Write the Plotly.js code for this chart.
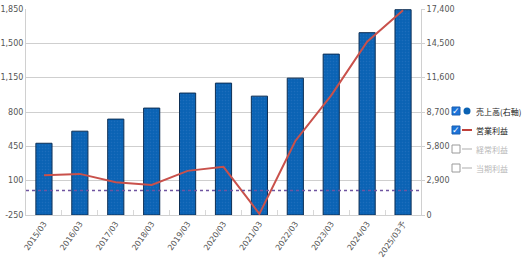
<!DOCTYPE html>
<html>
<head>
<meta charset="utf-8">
<script src="https://cdn.plot.ly/plotly-3.0.1.min.js"></script>
<style>
html,body{margin:0;padding:0;background:#fff;}
#chart{width:523px;height:269px;}
</style>
</head>
<body>
<div id="chart"></div>
<script>
// Data
const categories = ['2015/03','2016/03','2017/03','2018/03','2019/03','2020/03','2021/03','2022/03','2023/03','2024/03','2025/03予'];
const sales = [6060, 7080, 8100, 9030, 10300, 11140, 10040, 11560, 13590, 15400, 17340];      // 売上高 (right axis)
const operatingProfit = [156, 169, 85, 57, 200, 241, -239, 505, 970, 1516, 1836];            // 営業利益 (left axis)
const leftTicks = [-250, 100, 450, 800, 1150, 1500, 1850];
const rightTicks = [0, 2900, 5800, 8700, 11600, 14500, 17400];
const legendLabels = ['売上高(右軸)', '営業利益', '経常利益', '当期利益'];
const legendActive = [true, true, false, false];

const fmt = v => v.toLocaleString('en-US');

const M = {l: 26, r: 102, t: 9, b: 54};
const W = 523, H = 269;
const PW = W - M.l - M.r, PH = H - M.t - M.b;
const px = x => (x - M.l) / PW, py = y => 1 - (y - M.t) / PH;

const traces = [
  {
    type: 'bar', x: categories, y: sales, yaxis: 'y', name: legendLabels[0],
    marker: {color: '#0b63b4', line: {color: '#0d2f55', width: 1},
             pattern: {shape: '.', fillmode: 'overlay', bgcolor: '#0b63b4', fgcolor: '#2f78c2', size: 3, solidity: 0.2}},
    width: 0.45, showlegend: false
  },
  {
    type: 'scatter', mode: 'lines', x: categories, y: operatingProfit, yaxis: 'y2', name: legendLabels[1],
    line: {color: '#c9514b', width: 2}, showlegend: false
  }
];

const shapes = [
  {type: 'line', xref: 'paper', yref: 'y2', x0: 0, x1: 1, y0: 0, y1: 0,
   line: {color: '#6f55a0', width: 1.3, dash: 'dot'}}
];
const annotations = [];

// manual legend with checkboxes
const legX = 452, rowY = [111, 130, 149, 168];
legendLabels.forEach((lab, i) => {
  const y = rowY[i];
  const active = legendActive[i];
  shapes.push({type: 'rect', xref: 'paper', yref: 'paper',
    x0: px(legX), x1: px(legX + 8), y0: py(y + 4), y1: py(y - 4),
    fillcolor: active ? '#1a73d9' : '#ffffff',
    line: {color: active ? '#1a5fb0' : '#9a9a9a', width: 1}});
  if (active) {
    annotations.push({xref: 'paper', yref: 'paper', x: px(legX + 4), y: py(y),
      text: '✓', showarrow: false, font: {family: 'DejaVu Sans', size: 9, color: '#ffffff'},
      xanchor: 'center', yanchor: 'middle'});
  }
  if (i === 0) {
    shapes.push({type: 'circle', xref: 'paper', yref: 'paper',
      x0: px(463.5), x1: px(470.5), y0: py(y + 3.5), y1: py(y - 3.5),
      fillcolor: '#0a62b3', line: {color: '#0a62b3', width: 0}});
  } else {
    shapes.push({type: 'line', xref: 'paper', yref: 'paper',
      x0: px(462), x1: px(472), y0: py(y), y1: py(y),
      line: {color: active ? '#c0403a' : '#c8c8c8', width: active ? 2 : 1.5}});
  }
  annotations.push({xref: 'paper', yref: 'paper', x: px(474), y: py(y),
    text: lab, showarrow: false, xanchor: 'left', yanchor: 'middle',
    font: {family: 'Noto Sans CJK JP', size: 8, color: active ? '#1a1a1a' : '#b8b8b8'}});
});

const layout = {
  width: W, height: H,
  margin: {l: M.l, r: M.r, t: M.t, b: M.b, pad: 0},
  paper_bgcolor: '#ffffff', plot_bgcolor: '#ffffff',
  font: {family: 'DejaVu Sans', size: 8, color: '#555555'},
  showlegend: false,
  bargap: 0.55,
  xaxis: {
    type: 'category', tickangle: -55,
    tickfont: {family: 'DejaVu Sans', size: 8, color: '#555555'},
    showline: true, linecolor: '#d0d0d0', linewidth: 1,
    ticks: 'inside', tickson: 'boundaries', ticklen: 5, tickcolor: '#d8d8d8',
    showgrid: false, zeroline: false, fixedrange: true
  },
  yaxis: {
    side: 'right',
    range: [0, 17400], tickvals: rightTicks, ticktext: rightTicks.map(fmt),
    showgrid: true, gridcolor: '#cfcfcf', gridwidth: 1,
    showline: true, linecolor: '#d0d0d0', zeroline: false,
    ticks: 'outside', ticklen: 3, tickcolor: '#d0d0d0',
    tickfont: {size: 8, color: '#555555'}, fixedrange: true
  },
  yaxis2: {
    overlaying: 'y', side: 'left',
    range: [-250, 1850], tickvals: leftTicks, ticktext: leftTicks.map(fmt),
    showgrid: false, showline: true, linecolor: '#d0d0d0', zeroline: false,
    ticks: '', tickfont: {size: 8, color: '#555555'}, fixedrange: true
  },
  shapes: shapes,
  annotations: annotations
};

Plotly.newPlot('chart', traces, layout, {displayModeBar: false, staticPlot: true});
</script>
</body>
</html>
